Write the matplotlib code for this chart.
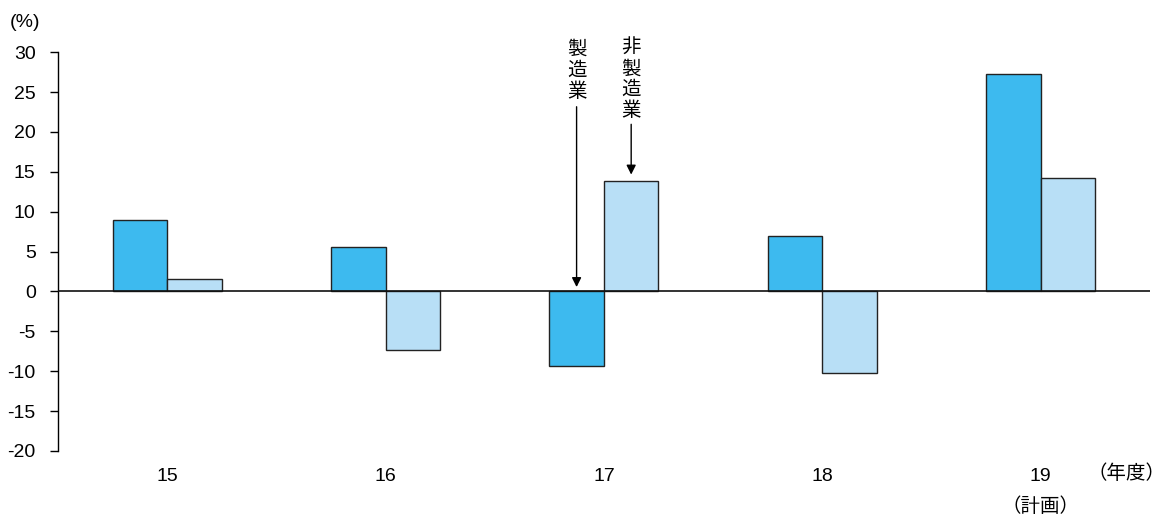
import matplotlib.pyplot as plt
import numpy as np

plt.rcParams['font.family'] = ['Liberation Sans', 'Noto Sans CJK JP', 'DejaVu Sans']

years = ["15", "16", "17", "18", "19"]
manufacturing = [8.9, 5.6, -9.4, 7.0, 27.3]
non_manufacturing = [1.5, -7.3, 13.8, -10.2, 14.2]
yticks = [-20, -15, -10, -5, 0, 5, 10, 15, 20, 25, 30]

fig = plt.figure(figsize=(11.64, 5.16), dpi=100)
ax = fig.add_axes([0.0498, 0.126, 0.938, 0.773])

x = np.arange(len(years))
w = 0.25
ax.bar(x - w / 2, manufacturing, w, color="#3dbaef", edgecolor="#222222", linewidth=1.0)
ax.bar(x + w / 2, non_manufacturing, w, color="#b8dff6", edgecolor="#222222", linewidth=1.0)
ax.axhline(0, color="#111111", linewidth=1.2, zorder=3)

ax.set_xlim(-0.5, 4.5)
ax.set_ylim(-20, 30)
ax.set_yticks(yticks)
ax.set_yticklabels([str(v) for v in yticks], fontsize=14)
ax.set_xticks(x)
ax.set_xticklabels(years, fontsize=14)
ax.tick_params(axis="x", length=0, pad=12)
ax.tick_params(axis="y", direction="out", length=6, width=1, pad=10)

for s in ["top", "right", "bottom"]:
    ax.spines[s].set_visible(False)
ax.spines["left"].set_linewidth(1)
ax.spines["left"].set_bounds(-20, 30)

jp = ['Noto Sans CJK JP', 'DejaVu Sans']
fig.text(0.008, 0.957, "(%)", fontsize=14, va="center", ha="left")
fig.text(0.968, 0.083, "（年度）", fontsize=14, va="center", ha="center", family=jp)
fig.text(0.8935, 0.018, "（計画）", fontsize=14, va="center", ha="center", family=jp)

# vertical labels with arrows
ax.annotate("", xy=(2 - w / 2, 0.2), xytext=(2 - w / 2, 23.5),
            arrowprops=dict(arrowstyle="-|>", color="black", lw=1, mutation_scale=14))
ax.text(2 - w / 2, 27.7, "\n".join("製造業"), fontsize=14, ha="center", va="center",
        linespacing=1.0, family=jp)
ax.annotate("", xy=(2 + w / 2, 14.3), xytext=(2 + w / 2, 21.3),
            arrowprops=dict(arrowstyle="-|>", color="black", lw=1, mutation_scale=14))
ax.text(2 + w / 2, 26.6, "\n".join("非製造業"), fontsize=14, ha="center", va="center",
        linespacing=1.0, family=jp)

fig.savefig("out.png", dpi=100)
